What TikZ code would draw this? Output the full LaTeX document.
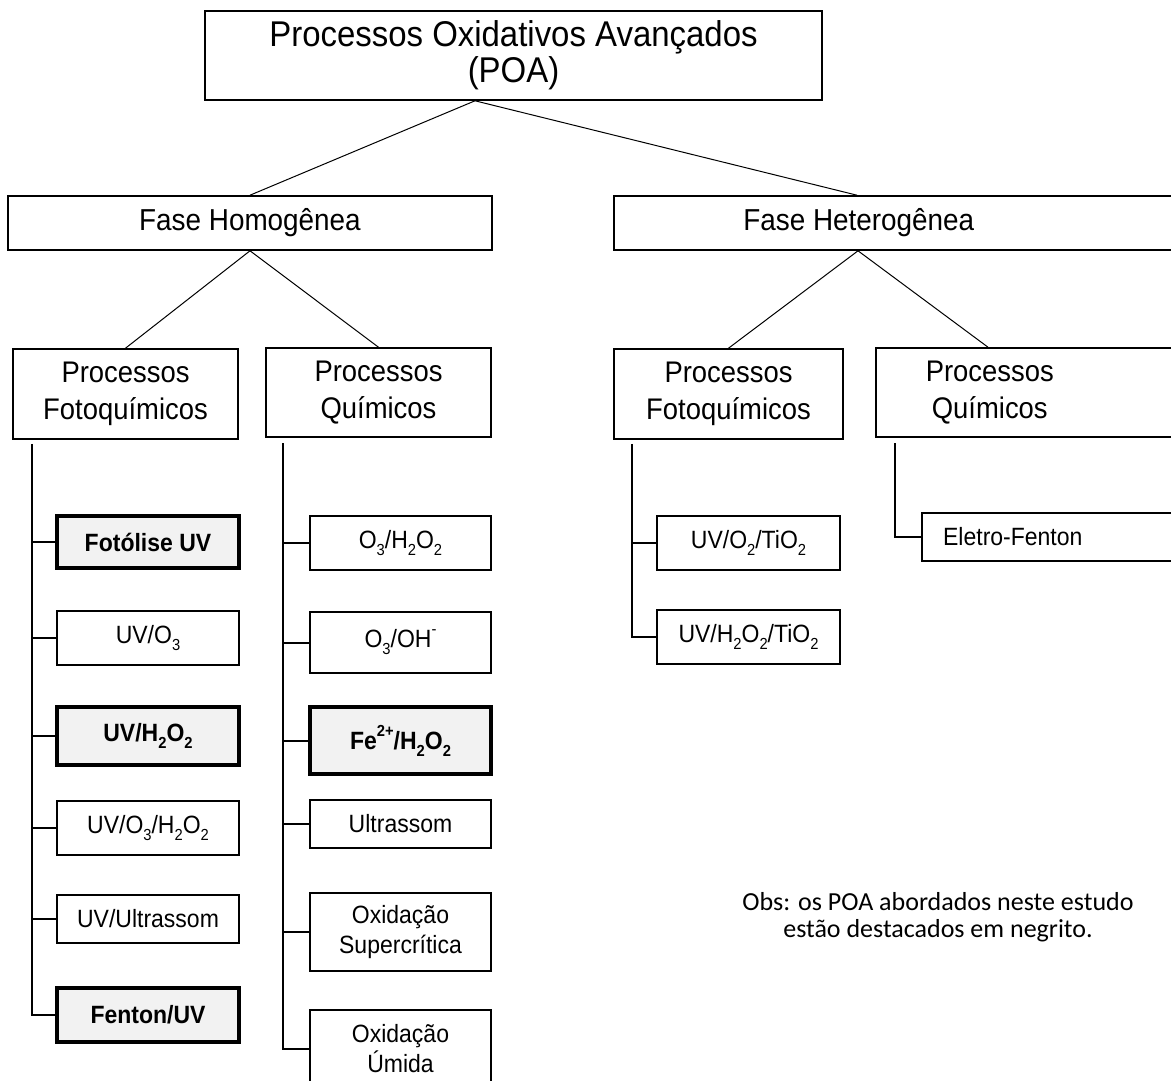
\documentclass[tikz,border=0pt]{standalone}
\usepackage{fontspec}
\setmainfont[FakeStretch=0.92]{Liberation Sans}
\newfontfamily\obsfont{Carlito}
\newcommand\sbs[1]{\raisebox{-7pt}{\fontsize{16}{16}\selectfont #1}}
\newcommand\sps[1]{\raisebox{13pt}{\fontsize{16}{16}\selectfont #1}}
\tikzset{
  box/.style={draw, line width=1.6pt, inner sep=0pt, align=center},
  leaf/.style={box, minimum width=182, font=\fontsize{25}{30}\selectfont},
  keybox/.style={leaf, line width=3.4pt, fill=gray!10, font=\fontsize{25}{30}\selectfont\bfseries},
  lvltwo/.style={box, minimum height=90, font=\fontsize{29.8}{37}\selectfont},
  lvlone/.style={box, minimum height=54, font=\fontsize{30.3}{32}\selectfont}
}
\tikzset{
  diag/.style={line width=1pt},
  spine/.style={line width=2pt}
}
\begin{document}
\begin{tikzpicture}[x=1pt,y=-1pt]
\clip (0,0) rectangle (1171,1081);
\fill[white] (0,0) rectangle (1171,1081);

% top
\node[box, minimum width=617, minimum height=89, font=\fontsize{35.8}{36}\selectfont] (poa) at (513.5,55.5) {Processos Oxidativos Avançados\\(POA)};

% level 1
\node[lvlone, anchor=west] (fhe) at (613,223) {\makebox[640pt][l]{\makebox[490pt]{Fase Heterogênea}}};
\node[lvlone, minimum width=484] (fho) at (250,223) {Fase Homogênea};

% level 2
\node[lvltwo, minimum width=225] (pf1) at (125.5,394) {Processos\\Fotoquímicos};
\node[lvltwo, minimum width=225, minimum height=89] (pq1) at (378.5,392.5) {Processos\\Químicos};
\node[lvltwo, minimum width=229] (pf2) at (728.5,394) {Processos\\Fotoquímicos};
\node[lvltwo, anchor=west, minimum height=89] (pq2) at (875,392.5) {\makebox[428pt][l]{\makebox[228pt]{Processos}}\\\makebox[428pt][l]{\makebox[228pt]{Químicos}}};

% left column leaves
\node[keybox, minimum height=52] (l1) at (148,542) {Fotólise UV};
\node[leaf, minimum height=54] (l2) at (148,638) {UV/O\sbs{3}};
\node[keybox, minimum height=58] (l3) at (148,736) {UV/H\sbs{2}O\sbs{2}};
\node[leaf, minimum height=54] (l4) at (148,828) {UV/O\sbs{3}/H\sbs{2}O\sbs{2}};
\node[leaf, minimum height=48] (l5) at (148,919) {UV/Ultrassom};
\node[keybox, minimum height=54] (l6) at (148,1015) {Fenton/UV};

% middle column leaves
\node[leaf, minimum width=181, minimum height=54] (m1) at (400.5,543) {O\sbs{3}/H\sbs{2}O\sbs{2}};
\node[leaf, minimum width=181, minimum height=61] (m2) at (400.5,642.5) {O\sbs{3}/OH\sps{-}};
\node[keybox, minimum width=181, minimum height=67] (m3) at (400.5,740.5) {Fe\sps{2+}/H\sbs{2}O\sbs{2}};
\node[leaf, minimum width=181, minimum height=48] (m4) at (400.5,824) {Ultrassom};
\node[leaf, minimum width=181, minimum height=78] (m5) at (400.5,932) {Oxidação\\Supercrítica};
\node[leaf, minimum width=181, minimum height=78] (m6) at (400.5,1049) {Oxidação\\Úmida};

% right leaves
\node[leaf, minimum width=183, minimum height=54] (r1) at (748.5,543) {UV/O\sbs{2}/TiO\sbs{2}};
\node[leaf, minimum width=183, minimum height=54] (r2) at (748.5,637) {UV/H\sbs{2}O\sbs{2}/TiO\sbs{2}};
\node[leaf, anchor=west, minimum height=48] (ef) at (921,537) {\makebox[282pt][l]{\makebox[182pt]{Eletro-Fenton}}};

% diagonal connectors
\coordinate (poaJ) at ([xshift=-38.5pt]poa.south);
\coordinate (fheT) at ([xshift=244pt]fhe.north west);
\coordinate (fheB) at ([xshift=245pt]fhe.south west);
\coordinate (pq2T) at ([xshift=113pt]pq2.north west);
\draw[diag] (poaJ) -- (fho.north);
\draw[diag] (poaJ) -- (fheT);
\draw[diag] (fho.south) -- (pf1.north);
\draw[diag] (fho.south) -- (pq1.north);
\draw[diag] (fheB) -- (pf2.north);
\draw[diag] (fheB) -- (pq2T);

% spines
\coordinate (s1) at ([xshift=-93.5pt,yshift=-4pt]pf1.south);
\coordinate (s2) at ([xshift=-95.5pt,yshift=-5.5pt]pq1.south);
\coordinate (s3) at ([xshift=-96.5pt,yshift=-4pt]pf2.south);
\coordinate (s4) at ([xshift=20pt,yshift=-5.5pt]pq2.south west);
\draw[spine] (s1) |- (l6.west);
\foreach \n in {l1,l2,l3,l4,l5} \draw[spine] (s1 |- \n.west) -- (\n.west);
\draw[spine] (s2) |- (m6.west);
\foreach \n in {m1,m2,m3,m4,m5} \draw[spine] (s2 |- \n.west) -- (\n.west);
\draw[spine] (s3) |- (r2.west);
\draw[spine] (s3 |- r1.west) -- (r1.west);
\draw[spine] (s4) |- (ef.west);

% note
\node[font=\obsfont\fontsize{26}{27}\selectfont, align=center] (obs) at (938,917) {Obs: os POA abordados neste estudo\\estão destacados em negrito.};
\end{tikzpicture}
\end{document}
